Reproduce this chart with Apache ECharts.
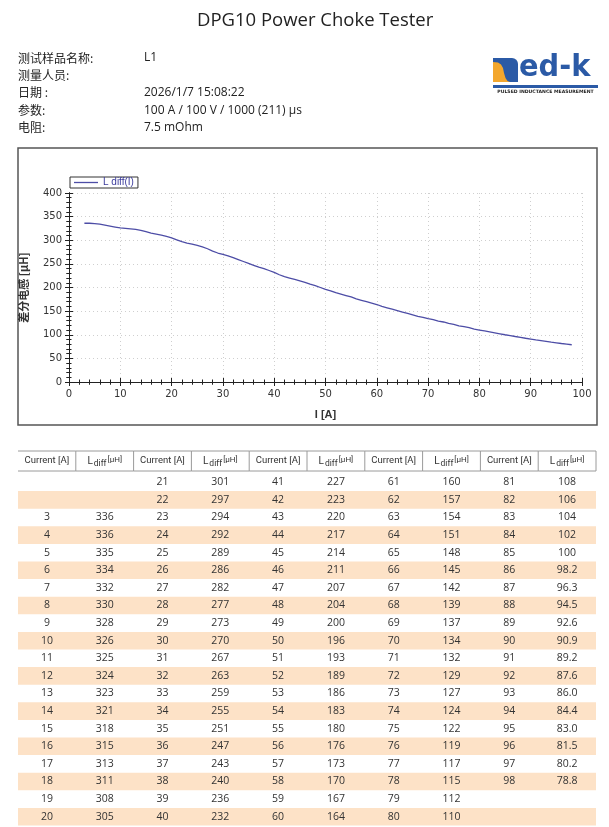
<!DOCTYPE html>
<html>
<head>
<meta charset="utf-8">
<script src="https://cdn.jsdelivr.net/npm/echarts@6/dist/echarts.min.js"></script>
<style>
  html, body { margin: 0; padding: 0; background: #fff; }
  #page { width: 609px; height: 827px; }
</style>
</head>
<body>
<div id="page"></div>
<script>
const reportTitle = "DPG10 Power Choke Tester";
const infoLabels = ["测试样品名称:", "测量人员:", "日期 :", "参数:", "电阻:"];
const infoValues = ["L1", "", "2026/1/7 15:08:22", "100 A / 100 V / 1000 (211) µs", "7.5 mOhm"];

// measured points: current [A] and differential inductance [µH]
const current = [
  3, 4, 5, 6, 7, 8, 9, 10, 11, 12, 13, 14, 15, 16, 17, 18, 19, 20,
  21, 22, 23, 24, 25, 26, 27, 28, 29, 30, 31, 32, 33, 34, 35, 36, 37, 38, 39, 40,
  41, 42, 43, 44, 45, 46, 47, 48, 49, 50, 51, 52, 53, 54, 55, 56, 57, 58, 59, 60,
  61, 62, 63, 64, 65, 66, 67, 68, 69, 70, 71, 72, 73, 74, 75, 76, 77, 78, 79, 80,
  81, 82, 83, 84, 85, 86, 87, 88, 89, 90, 91, 92, 93, 94, 95, 96, 97, 98
];
const lDiff = [
  336, 336, 335, 334, 332, 330, 328, 326, 325, 324, 323, 321, 318, 315, 313, 311, 308, 305,
  301, 297, 294, 292, 289, 286, 282, 277, 273, 270, 267, 263, 259, 255, 251, 247, 243, 240, 236, 232,
  227, 223, 220, 217, 214, 211, 207, 204, 200, 196, 193, 189, 186, 183, 180, 176, 173, 170, 167, 164,
  160, 157, 154, 151, 148, 145, 142, 139, 137, 134, 132, 129, 127, 124, 122, 119, 117, 115, 112, 110,
  108, 106, 104, 102, 100, 98.2, 96.3, 94.5, 92.6, 90.9, 89.2, 87.6, 86.0, 84.4, 83.0, 81.5, 80.2, 78.8
];
const seriesName = "L diff(I)";
const tableHeaders = ["Current [A]", "L diff [µH]"];

const ROWS = 20;
const COLS = 10;
const fmt = (v) => (v >= 100 ? String(v) : v.toFixed(1));

// place each measurement in the 5 column pairs of the report table
const cells = [];
current.forEach((c, i) => {
  const slot = c - 1;
  const pair = Math.floor(slot / ROWS);
  const row = slot % ROWS;
  cells.push({ col: pair * 2, row, text: String(c) });
  cells.push({ col: pair * 2 + 1, row, text: fmt(lDiff[i]) });
});
const rowIdx = Array.from({ length: ROWS }, (_, r) => r);
const colIdx = Array.from({ length: COLS }, (_, c) => c);

const AXIS = "#222";
const FONT = "'DejaVu Sans', sans-serif";
const CJK = "'Noto Sans CJK SC', sans-serif";

const chart = echarts.init(document.getElementById("page"));

function valueAxis(extra) {
  return Object.assign({
    gridIndex: 0,
    type: "value",
    axisLine: { show: true, lineStyle: { color: AXIS, width: 1 } },
    axisTick: { show: true, inside: true, length: 4, lineStyle: { color: AXIS } },
    minorTick: { show: true, splitNumber: 5, length: 2.5, lineStyle: { color: AXIS } },
    axisLabel: { show: false },
    splitLine: { show: false },
  }, extra);
}

const gridSplit = { show: true, lineStyle: { color: "#cfcfcf", type: [1, 3], width: 1 } };
const tickLabel = { show: true, color: "#333", fontSize: 10, fontFamily: FONT, margin: 7 };

chart.setOption({
  animation: false,
  title: {
    text: reportTitle,
    left: 192,
    top: 6,
    textStyle: { fontSize: 18.5, fontWeight: "normal", fontFamily: "'Open Sans', sans-serif", color: "#222" },
  },
  legend: {
    left: 70,
    top: 177,
    data: [seriesName],
    icon: "rect",
    itemWidth: 24,
    itemHeight: 1.3,
    itemGap: 5,
    padding: [0, 4, 0, 4],
    borderColor: "#333",
    borderWidth: 1,
    borderRadius: 0,
    textStyle: { color: "#3b3b9c", fontSize: 10, lineHeight: 11, fontFamily: "'Liberation Sans', sans-serif" },
  },
  grid: [
    { left: 69, top: 193, width: 513, height: 189, outerBoundsMode: "none" },
    { left: 18, top: 473.5, width: 578, height: 352, outerBoundsMode: "none" },
    { left: 18, top: 451, width: 578, height: 20, outerBoundsMode: "none" },
  ],
  xAxis: [
    valueAxis({
      min: 0, max: 100, interval: 10, position: "bottom",
      axisTick: { show: true, inside: false, length: 4, lineStyle: { color: AXIS } },
      axisLabel: tickLabel,
      splitLine: gridSplit,
      name: "I [A]",
      nameLocation: "middle",
      nameGap: 27,
      nameTextStyle: { fontSize: 11, fontWeight: "bold", color: "#333", fontFamily: "'Liberation Sans', sans-serif" },
    }),
    valueAxis({ min: 0, max: 100, interval: 10, position: "bottom" }),
    valueAxis({ min: 0, max: 100, interval: 10, position: "top" }),
    { gridIndex: 1, type: "category", data: colIdx.map(String), show: false },
    { gridIndex: 2, type: "category", data: colIdx.map(String), show: false },
  ],
  yAxis: [
    valueAxis({
      min: 0, max: 400, interval: 50, position: "left",
      axisTick: { show: true, inside: false, length: 4, lineStyle: { color: AXIS } },
      axisLabel: tickLabel,
      splitLine: gridSplit,
      name: "差分电感 [µH]",
      nameLocation: "middle",
      nameGap: 40,
      nameTextStyle: { fontSize: 11, fontWeight: "bold", color: "#333", fontFamily: CJK },
    }),
    valueAxis({ min: 0, max: 400, interval: 50, position: "left" }),
    valueAxis({ min: 0, max: 400, interval: 50, position: "right" }),
    { gridIndex: 1, type: "category", data: rowIdx.map(String), inverse: true, show: false },
    { gridIndex: 2, type: "category", data: ["h"], show: false },
  ],
  series: [
    {
      name: seriesName,
      type: "line",
      xAxisIndex: 0,
      yAxisIndex: 0,
      symbol: "none",
      data: current.map((c, i) => [c, lDiff[i]]),
      lineStyle: { color: "#4d4da6", width: 1.3 },
      itemStyle: { color: "#4d4da6" },
    },
    {
      // striped rows
      type: "custom",
      xAxisIndex: 3,
      yAxisIndex: 3,
      silent: true,
      data: rowIdx.filter((r) => r % 2 === 1).map((r) => [0, r]),
      renderItem: (params, api) => {
        const p = api.coord([0, api.value(1)]);
        const h = api.size([1, 1])[1];
        return {
          type: "rect",
          shape: { x: params.coordSys.x, y: p[1] - h / 2, width: params.coordSys.width, height: h },
          style: { fill: "#fde2c7" },
        };
      },
    },
    {
      type: "custom",
      xAxisIndex: 3,
      yAxisIndex: 3,
      silent: true,
      data: cells.map((c, i) => [c.col, c.row, i]),
      renderItem: (params, api) => {
        const cell = cells[api.value(2)];
        const p = api.coord([api.value(0), api.value(1)]);
        return {
          type: "text",
          x: p[0],
          y: p[1],
          style: {
            text: cell.text, align: "center", verticalAlign: "middle",
            fontSize: 10.5, fontFamily: "'Open Sans', sans-serif", fill: "#333",
          },
        };
      },
    },
    {
      // table header
      type: "custom",
      xAxisIndex: 4,
      yAxisIndex: 4,
      silent: true,
      data: colIdx.map((c) => [c, 0]),
      renderItem: (params, api) => {
        const col = api.value(0);
        const p = api.coord([col, 0]);
        const s = api.size([1, 1]);
        const x0 = p[0] - s[0] / 2, x1 = p[0] + s[0] / 2;
        const y0 = p[1] - s[1] / 2, y1 = p[1] + s[1] / 2;
        const line = { stroke: "#9a9a9a", lineWidth: 1 };
        const isCurrent = col % 2 === 0;
        return {
          type: "group",
          children: [
            { type: "line", shape: { x1: x0, y1: y0, x2: x1, y2: y0 }, style: line },
            { type: "line", shape: { x1: x0, y1: y1, x2: x1, y2: y1 }, style: line },
            { type: "line", shape: { x1: x1, y1: y0, x2: x1, y2: y1 }, style: line },
            {
              type: "text",
              x: p[0],
              y: p[1],
              style: isCurrent
                ? { text: tableHeaders[0], align: "center", verticalAlign: "middle",
                    fontSize: 9.5, fontFamily: "Roboto, sans-serif", fill: "#333" }
                : { text: "{l|L}{s|diff}{u|[µH]}", align: "center", verticalAlign: "middle",
                    fill: "#333", fontFamily: "Roboto, sans-serif",
                    rich: {
                      l: { fontSize: 10, fontFamily: "Roboto, sans-serif", fill: "#333" },
                      s: { fontSize: 8.5, fontFamily: "Roboto, sans-serif", fill: "#333", padding: [5, 1, 0, 1] },
                      u: { fontSize: 8, fontFamily: "Roboto, sans-serif", fill: "#333", padding: [0, 0, 3, 0] },
                    } },
            },
          ],
        };
      },
    },
  ],
  graphic: [
    // info block
    ...infoLabels.map((t, i) => ({
      type: "text", x: 18, y: 58 + i * 17.4,
      style: { text: t, fontSize: 12, fontFamily: CJK, fill: "#222", verticalAlign: "middle" },
    })),
    ...infoValues.map((t, i) => ({
      type: "text", x: 144, y: 58 + i * 17.4,
      style: { text: t, fontSize: 12, fontFamily: "'Open Sans', sans-serif", fill: "#222", verticalAlign: "middle" },
    })),
    // chart frame
    {
      type: "rect", silent: true,
      shape: { x: 18, y: 148, width: 579, height: 277 },
      style: { fill: "none", stroke: "#555", lineWidth: 1.5 },
    },
    // logo
    {
      type: "group",
      children: [
        { type: "rect", shape: { x: 493, y: 58, width: 25, height: 24, r: [0, 6, 0, 0] }, style: { fill: "#2b5aa6" } },
        {
          type: "polygon",
          shape: { points: [[493, 62], [498, 62.5], [501, 64.5], [503, 68], [504, 73], [505.5, 78], [507.5, 81], [510, 82], [493, 82]] },
          style: { fill: "#f3a72e" },
        },
        {
          type: "text", x: 519, y: 83, scaleX: 0.93,
          style: { text: "ed-k", fontSize: 31, fontWeight: "bold", fontFamily: "'DejaVu Sans', sans-serif",
                   fill: "#2b5aa6", verticalAlign: "bottom" },
        },
        { type: "rect", shape: { x: 493, y: 85, width: 105, height: 3 }, style: { fill: "#2b5aa6" } },
        {
          type: "text", x: 545.5, y: 92,
          style: { text: "PULSED INDUCTANCE MEASUREMENT", fontSize: 4.6, fontWeight: "bold",
                   fontFamily: "'DejaVu Sans', sans-serif", fill: "#222", align: "center", verticalAlign: "middle" },
        },
      ],
    },
  ],
});
</script>
</body>
</html>
